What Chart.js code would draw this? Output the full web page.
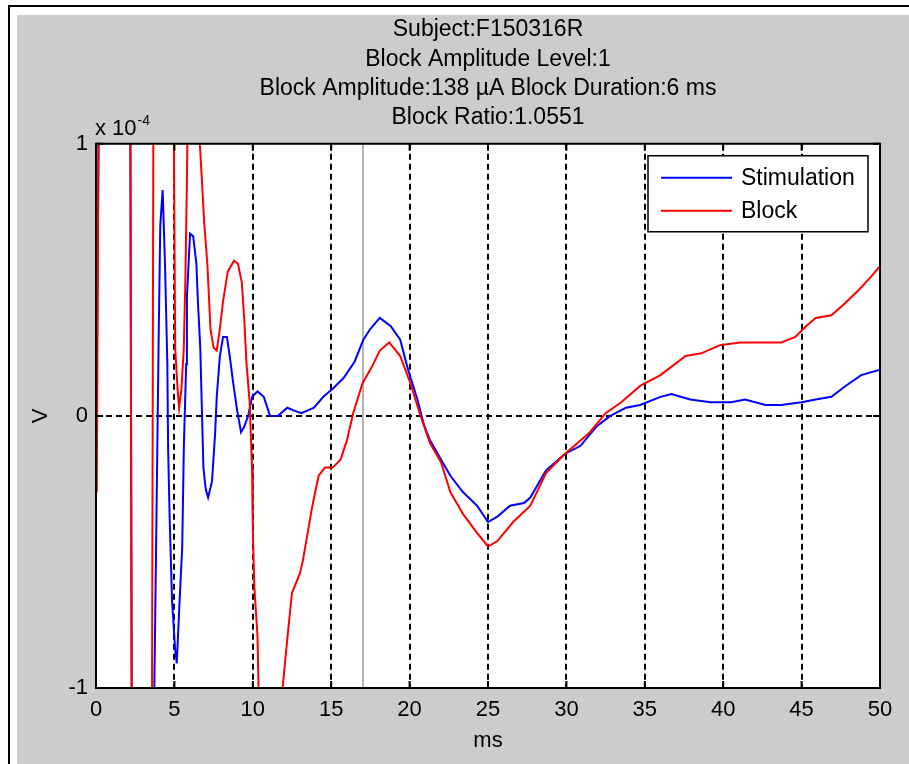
<!DOCTYPE html>
<html>
<head>
<meta charset="utf-8">
<script src="https://cdn.jsdelivr.net/npm/chart.js@4/dist/chart.umd.min.js"></script>
<style>
  html, body { margin: 0; padding: 0; background: #ffffff; width: 909px; height: 764px; overflow: hidden; }
  #frame { position: absolute; left: 8px; top: 5px; right: 0; bottom: 0; border-left: 2px solid #000; border-top: 2px solid #000; }
  #panel { position: absolute; left: 17px; top: 15px; right: 0; bottom: 0; background: #cccccc; }
  #wrap { position: absolute; left: 0; top: 0; width: 909px; height: 764px; }
</style>
</head>
<body>
<div id="frame"></div>
<div id="panel"></div>
<div id="wrap"><canvas id="chart" width="909" height="764"></canvas></div>
<script>
// Recorded traces, time in ms, voltage in units of 1e-4 V
const titleLines = [
  "Subject:F150316R",
  "Block Amplitude Level:1",
  "Block Amplitude:138 \u00b5A Block Duration:6 ms",
  "Block Ratio:1.0551"
];
const seriesNames = ["Stimulation", "Block"];
const xTickStep = 5;
const yTickStep = 1;
const markerTime = 17;  // ms

const stimTime = [0.05, 0.25, 2.17, 2.3, 3.6, 3.72, 3.85, 4.0, 4.1, 4.25, 4.4, 4.55, 4.6, 4.7, 4.85,
  5.05, 5.15, 5.3, 5.5, 5.6, 5.75, 5.8, 6.0, 6.2, 6.4, 6.5, 6.65, 6.75, 6.85, 7.0, 7.15, 7.4,
  7.6, 7.7, 7.9, 8.1, 8.35, 8.55, 8.75, 9.0, 9.25, 9.45, 9.7, 9.96, 10.3, 10.7, 11.1, 11.6,
  12.2, 12.6, 13.1, 13.9, 14.5, 15.1, 15.8, 16.5, 17.05, 17.5, 18.1, 18.8, 19.4, 19.9, 20.5,
  20.9, 21.3, 22.0, 22.6, 23.4, 24.3, 25.0, 25.6, 26.4, 27.3, 27.7, 28.7, 29.9, 30.9, 31.9,
  32.8, 33.8, 34.7, 36.0, 36.7, 37.9, 39.2, 40.5, 41.4, 42.7, 43.7, 45.0, 45.9, 46.9, 47.8,
  48.8, 50];
const stimValue = [0.17, 1.6, 1.6, -1.6, -1.6, -1.0, -0.4, 0.3, 0.7, 0.83, 0.56, 0.19, -0.12, -0.38, -0.68,
  -0.86, -0.91, -0.72, -0.48, -0.12, 0.19, 0.44, 0.67, 0.66, 0.56, 0.42, 0.25, 0.03, -0.19, -0.27, -0.30, -0.24,
  -0.06, 0.07, 0.22, 0.29, 0.29, 0.21, 0.12, 0.02, -0.06, -0.04, 0.0, 0.07, 0.09, 0.07, 0.0, 0.0,
  0.03, 0.02, 0.01, 0.03, 0.07, 0.10, 0.14, 0.20, 0.28, 0.32, 0.36, 0.33, 0.28, 0.17, 0.06,
  -0.03, -0.09, -0.16, -0.22, -0.28, -0.33, -0.39, -0.37, -0.33, -0.32, -0.30, -0.20, -0.14, -0.11, -0.04,
  0.0, 0.03, 0.04, 0.07, 0.08, 0.06, 0.05, 0.05, 0.06, 0.04, 0.04, 0.05, 0.06, 0.07, 0.11,
  0.15, 0.17];

const blockTime = [0.05, 0.2, 2.17, 2.3, 3.55, 3.68, 4.9, 5.05, 5.2, 5.3, 5.45, 5.6, 5.7, 5.8, 5.95,
  6.5, 6.62, 6.75, 6.9, 7.1, 7.2, 7.3, 7.5, 7.7, 7.9, 8.1, 8.4, 8.8, 9.05, 9.3, 9.45, 9.6, 9.8,
  9.95, 10.0, 10.1, 10.3, 10.4, 10.6, 11.6, 11.9, 12.2, 12.5, 13.0, 13.2, 13.8, 14.2, 14.6, 15.1,
  15.6, 16.0, 16.4, 17.0, 17.5, 18.1, 18.7, 19.4, 20.05, 20.7, 21.3, 22.0, 22.6, 23.4, 24.3, 25.0,
  25.6, 26.6, 27.7, 28.7, 29.9, 31.5, 32.5, 33.5, 34.7, 36.0, 37.6, 38.6, 39.8, 41.1, 42.4, 43.7,
  44.6, 45.3, 45.9, 46.9, 47.7, 48.6, 49.4, 50];
const blockValue = [-0.28, 1.6, 1.6, -1.6, -1.6, 1.6, 1.6, 0.25, 0.1, 0.03, 0.1, 0.25, 0.5, 0.87, 1.6,
  1.6, 1.0, 0.87, 0.71, 0.56, 0.44, 0.32, 0.25, 0.24, 0.32, 0.42, 0.53, 0.57, 0.56, 0.49, 0.36, 0.19, 0.05,
  -0.19, -0.42, -0.63, -0.81, -1.1, -1.6, -1.6, -1.0, -0.82, -0.65, -0.58, -0.53, -0.33, -0.22, -0.19, -0.19,
  -0.16, -0.09, 0.01, 0.12, 0.17, 0.24, 0.27, 0.22, 0.12, 0.0, -0.10, -0.17, -0.28, -0.36, -0.43, -0.48,
  -0.46, -0.39, -0.33, -0.21, -0.14, -0.06, 0.01, 0.05, 0.11, 0.15, 0.22, 0.23, 0.26, 0.27, 0.27, 0.27,
  0.29, 0.33, 0.36, 0.37, 0.41, 0.46, 0.51, 0.55];

const FONT = "'Liberation Sans', Arial, Helvetica, sans-serif";
const toPoints = (ts, vs) => ts.map((t, i) => ({ x: t, y: vs[i] }));

// Axes box, inward ticks, time marker, legend and exponent label
const figurePlugin = {
  id: 'figureDecor',
  beforeDraw(chart) {
    const { ctx, chartArea: a } = chart;
    ctx.save();
    ctx.fillStyle = '#ffffff';
    ctx.fillRect(a.left, a.top, a.right - a.left, a.bottom - a.top);
    ctx.restore();
  },
  beforeDatasetsDraw(chart) {
    const { ctx, chartArea: a, scales: { x } } = chart;
    const mx = Math.round(x.getPixelForValue(markerTime));
    ctx.save();
    ctx.strokeStyle = '#b4b4b4';
    ctx.lineWidth = 2;
    ctx.beginPath();
    ctx.moveTo(mx, a.top);
    ctx.lineTo(mx, a.bottom);
    ctx.stroke();
    ctx.restore();
  },
  afterDatasetsDraw(chart) {
    const { ctx, chartArea: a, scales: { x, y } } = chart;
    ctx.save();
    ctx.strokeStyle = '#000';
    ctx.lineWidth = 2;
    ctx.strokeRect(a.left, a.top, a.right - a.left, a.bottom - a.top);
    const tl = 7;
    ctx.beginPath();
    x.ticks.forEach(t => {
      const px = x.getPixelForValue(t.value);
      ctx.moveTo(px, a.bottom); ctx.lineTo(px, a.bottom - tl);
      ctx.moveTo(px, a.top); ctx.lineTo(px, a.top + tl);
    });
    y.ticks.forEach(t => {
      const py = y.getPixelForValue(t.value);
      ctx.moveTo(a.left, py); ctx.lineTo(a.left + tl, py);
      ctx.moveTo(a.right, py); ctx.lineTo(a.right - tl, py);
    });
    ctx.stroke();

    // exponent label above the y axis
    ctx.fillStyle = '#000';
    ctx.textBaseline = 'alphabetic';
    ctx.textAlign = 'left';
    ctx.font = `22px ${FONT}`;
    const ex = a.left - 1, ey = a.top - 9;
    ctx.fillText('x 10', ex, ey);
    const w = ctx.measureText('x 10').width;
    ctx.font = `14px ${FONT}`;
    ctx.fillText('-4', ex + w + 1, ey - 10);

    // legend
    const bw = 220, bh = 76;
    const bx = a.right - 12 - bw, by = a.top + 12;
    ctx.fillStyle = '#fff';
    ctx.fillRect(bx, by, bw, bh);
    ctx.lineWidth = 1.5;
    ctx.strokeStyle = '#000';
    ctx.strokeRect(bx, by, bw, bh);
    ctx.font = `23px ${FONT}`;
    ctx.textBaseline = 'middle';
    chart.data.datasets.forEach((ds, i) => {
      const ry = by + 22 + i * 33;
      ctx.strokeStyle = ds.borderColor;
      ctx.lineWidth = 2;
      ctx.beginPath();
      ctx.moveTo(bx + 13, ry);
      ctx.lineTo(bx + 84, ry);
      ctx.stroke();
      ctx.fillStyle = '#000';
      ctx.fillText(ds.label, bx + 93, ry + 1);
    });
    ctx.restore();
  }
};

new Chart(document.getElementById('chart'), {
  type: 'line',
  data: {
    datasets: [
      { label: seriesNames[0], data: toPoints(stimTime, stimValue), borderColor: '#0000ff',
        borderWidth: 2, pointRadius: 0, tension: 0, order: 1, clip: 0 },
      { label: seriesNames[1], data: toPoints(blockTime, blockValue), borderColor: '#ff0000',
        borderWidth: 2, pointRadius: 0, tension: 0, order: 0, clip: 0 }
    ]
  },
  options: {
    responsive: false,
    animation: false,
    devicePixelRatio: 1,
    layout: { padding: { left: 0, right: 29, top: 0, bottom: 0 } },
    plugins: {
      legend: { display: false },
      tooltip: { enabled: false },
      title: {
        display: true,
        text: titleLines,
        color: '#000',
        fullSize: false,
        font: { family: FONT, size: 23, weight: 'normal', lineHeight: 1.28 },
        padding: { top: 15, bottom: 11 }
      }
    },
    scales: {
      x: {
        type: 'linear', min: 0, max: 50,
        ticks: { stepSize: xTickStep, color: '#000', font: { family: FONT, size: 22 }, padding: 9, maxRotation: 0 },
        grid: {
          drawTicks: false, lineWidth: 2,
          color: c => (c.tick && c.tick.value > 0 && c.tick.value < 50) ? '#000' : 'rgba(0,0,0,0)'
        },
        border: { display: false, dash: [6, 4] },
        title: { display: true, text: 'ms', color: '#000', font: { family: FONT, size: 22 }, padding: { top: 2, bottom: 10 } },
        afterFit: s => { s.height = 76; }
      },
      y: {
        min: -1, max: 1,
        ticks: { stepSize: yTickStep, color: '#000', font: { family: FONT, size: 22 }, padding: 8 },
        grid: {
          drawTicks: false, lineWidth: 2,
          color: c => (c.tick && c.tick.value === 0) ? '#000' : 'rgba(0,0,0,0)'
        },
        border: { display: false, dash: [6, 4] },
        title: { display: true, text: 'V', color: '#000', font: { family: FONT, size: 22 }, padding: { top: 28, bottom: 0 } },
        afterFit: s => { s.width = 96; }
      }
    }
  },
  plugins: [figurePlugin]
});
</script>
</body>
</html>
